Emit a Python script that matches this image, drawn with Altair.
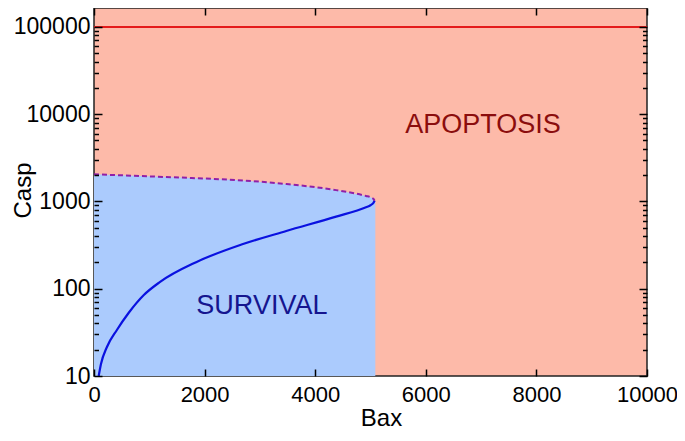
import altair as alt
import pandas as pd

# ---- data ----
bax_lower = [85, 126, 234, 414, 625, 901, 1189, 1856, 2667, 3477, 4378, 4919, 5000, 5050, 5075]
casp_lower = [10, 13.7, 21.5, 33.7, 52.7, 84.7, 119, 203, 321, 459, 670, 860, 905, 960, 1018]

bax_upper = [0, 865, 1766, 2577, 3478, 4379, 4920, 5000, 5050, 5075]
casp_upper = [2050, 1955, 1858, 1760, 1585, 1350, 1157, 1120, 1075, 1018]

fill_bax = bax_upper + [5087]
fill_casp = casp_upper + [1018]

threshold = 100000

region_names = ["APOPTOSIS", "SURVIVAL"]
region_bax = [7036, 3036]
region_casp = [8000, 66.8]
region_colors = ["#8b0d0d", "#15158f"]

x_ticks = [0, 2000, 4000, 6000, 8000, 10000]
y_major = [10, 100, 1000, 10000, 100000]
y_ticks = sorted(set(y_major + [m * d for d in [10, 100, 1000, 10000] for m in range(2, 10)]))

W, H = 553, 368

lower = pd.DataFrame({"Bax": bax_lower, "Casp": casp_lower})
upper = pd.DataFrame({"Bax": bax_upper, "Casp": casp_upper})
fill = pd.DataFrame({"Bax": fill_bax, "Casp": fill_casp})
labels = pd.DataFrame({"name": region_names, "Bax": region_bax, "Casp": region_casp, "color": region_colors})

xs = alt.Scale(domain=[0, 10000], nice=False, zero=False)
ys = alt.Scale(type="log", domain=[10, 165000], nice=False)

major_test = "indexof([10,100,1000,10000,100000], datum.value) >= 0"
y_tick_size = {"condition": {"test": major_test, "value": 8}, "value": 4.5}

ax_x_labels = alt.Axis(orient="bottom", values=x_ticks, ticks=False, domain=False, grid=False,
                       labelFontSize=22, labelPadding=8, labelColor="black", format="d",
                       labelFlush=False,
                       title="Bax", titleFontSize=24, titleFontWeight="normal", titleColor="black",
                       titleX=287, titleY=49, titleBaseline="alphabetic", titleAlign="center")
ax_y_labels = alt.Axis(orient="left", values=y_major, ticks=False, domain=False, grid=False,
                       labelFontSize=23, labelPadding=4, labelColor="black", format="d",
                       labelFlush=False,
                       title="Casp", titleFontSize=24, titleFontWeight="normal", titleColor="black",
                       titleAngle=-90, titleX=-64, titleY=182, titleBaseline="alphabetic",
                       titleAlign="center")
tick_common = dict(labels=False, domain=False, grid=False, tickWidth=1.5, tickColor="black",
                   title=None, zindex=2)
ax_x_in_bottom = alt.Axis(orient="top", offset=-H, values=x_ticks, tickSize=7, **tick_common)
ax_x_in_top = alt.Axis(orient="bottom", offset=-H, values=x_ticks, tickSize=7, **tick_common)
ax_y_in_left = alt.Axis(orient="right", offset=-W, values=y_ticks, tickSize=y_tick_size, **tick_common)
ax_y_in_right = alt.Axis(orient="left", offset=-W, values=y_ticks, tickSize=y_tick_size, **tick_common)

area = alt.Chart(fill).mark_area(color="#abcbfd", opacity=1).encode(
    x=alt.X("Bax:Q", scale=xs, axis=ax_x_labels),
    y=alt.Y("Casp:Q", scale=ys, axis=ax_y_labels),
    y2=alt.Y2Datum(10),
)

blue = alt.Chart(lower).mark_line(color="#0a12e0", strokeWidth=2.2, clip=True,
                                  interpolate="monotone").encode(
    x=alt.X("Bax:Q", scale=xs, axis=ax_x_in_bottom),
    y=alt.Y("Casp:Q", scale=ys, axis=ax_y_in_left),
    order="Bax:Q",
)

dashed = alt.Chart(upper).mark_line(color="#9020a8", strokeWidth=2, strokeDash=[5, 3],
                                    interpolate="monotone").encode(
    x=alt.X("Bax:Q", scale=xs, axis=ax_x_in_top),
    y=alt.Y("Casp:Q", scale=ys, axis=ax_y_in_right),
    order="Bax:Q",
)

red = alt.Chart(pd.DataFrame({"t": [threshold]})).mark_rule(color="#e41b1b", strokeWidth=2).encode(
    y=alt.Y("t:Q", scale=ys, axis=None),
)

text = alt.Chart(labels).mark_text(fontSize=27, baseline="middle", align="center", dy=2).encode(
    x=alt.X("Bax:Q", scale=xs, axis=None),
    y=alt.Y("Casp:Q", scale=ys, axis=None),
    text="name:N",
    color=alt.Color("color:N", scale=None),
)

chart = alt.layer(area, blue, dashed, red, text).resolve_axis(
    x="independent", y="independent"
).properties(
    width=W, height=H,
    autosize=alt.AutoSizeParams(type="none"),
    padding={"left": 86, "top": 0, "right": 30, "bottom": 56},
).configure(font="Liberation Sans").configure_view(
    fill="#fdbaa9", stroke="#222222", strokeWidth=1.5
)

chart.save("out.html", embed_options={"renderer": "svg", "actions": False})
